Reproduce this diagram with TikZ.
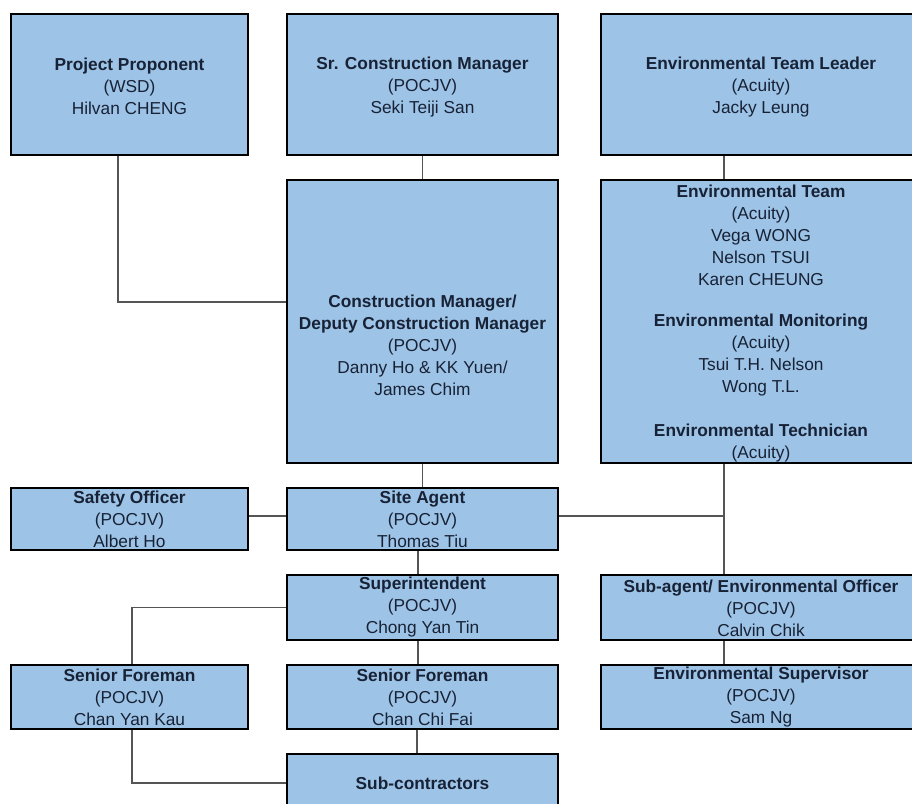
\documentclass[tikz,border=0pt]{standalone}
\usepackage{fontspec}
\setmainfont{Liberation Sans}
\usetikzlibrary{calc}
\definecolor{boxfill}{RGB}{157,195,230}
\definecolor{txtc}{RGB}{24,34,54}
\definecolor{linec}{RGB}{85,85,85}
\begin{document}
\begin{tikzpicture}[x=1pt,y=-1pt,
  box/.style={draw=black,line width=2pt,fill=boxfill,inner sep=0pt,align=center,text=txtc,font=\fontsize{17.3}{22}\selectfont},
  boxtext/.style={inner sep=0pt,align=center,text=txtc,font=\fontsize{17.3}{22}\selectfont},
  conn/.style={draw=linec,line width=1.3pt}]
\useasboundingbox (0,0) rectangle (912,803);
\clip (0,0) rectangle (912,803);
\fill[white] (0,0) rectangle (912,803);
% helper coordinates
\coordinate (xp) at (118,0);
\coordinate (xe) at (724,0);
\coordinate (xl) at (132,0);
\coordinate (xa) at (418,0);
\coordinate (xb) at (417,0);
\coordinate (yp) at (0,302);
\coordinate (ys) at (0,516);
% boxes
\node[box,minimum width=237pt,minimum height=141pt] (pp) at (129.5,84.5) {};
\node[boxtext] (ppt) at (129.5,86)
  {\textbf{Project Proponent}\\(WSD)\\Hilvan CHENG};
\node[box,minimum width=271pt,minimum height=141pt] (scm) at (422.5,84.5) {};
\node[boxtext] (scmt) at (422.5,87)
  {\textbf{Sr. Construction Manager}\\(POCJV)\\Seki Teiji San};
\node[box,minimum width=312pt,minimum height=141pt] (etl) at (757,84.5) {};
\node[boxtext] (etlt) at (761,87)
  {\textbf{Environmental Team Leader}\\(Acuity)\\Jacky Leung};
\node[box,minimum width=271pt,minimum height=283pt] (cm) at (422.5,321.5) {};
\node[boxtext] (cmt) at (422.5,345)
  {\textbf{Construction Manager/}\\\textbf{Deputy Construction Manager}\\(POCJV)\\Danny Ho \& KK Yuen/\\James Chim};
\node[box,minimum width=312pt,minimum height=283pt] (et) at (757,321.5) {};
\node[boxtext] (ett) at (761,324)
  {\textbf{Environmental Team}\\(Acuity)\\Vega WONG\\Nelson TSUI\\Karen CHEUNG\\[19pt]
   \textbf{Environmental Monitoring}\\(Acuity)\\Tsui T.H. Nelson\\Wong T.L.\\[22pt]
   \textbf{Environmental Technician}\\(Acuity)};
\node[box,minimum width=237pt,minimum height=62pt] (so) at (129.5,519)
  {\textbf{Safety Officer}\\(POCJV)\\Albert Ho};
\node[box,minimum width=271pt,minimum height=62pt] (sa) at (422.5,519)
  {\textbf{Site Agent}\\(POCJV)\\Thomas Tiu};
\node[box,minimum width=271pt,minimum height=65pt] (sup) at (422.5,607.5)
  {\textbf{Superintendent}\\(POCJV)\\Chong Yan Tin};
\node[box,minimum width=312pt,minimum height=65pt] (sub) at (757,607.5) {};
\node[boxtext] (subt) at (761,608)
  {\textbf{Sub-agent/ Environmental Officer}\\(POCJV)\\Calvin Chik};
\node[box,minimum width=237pt,minimum height=64pt] (sf1) at (129.5,697)
  {\textbf{Senior Foreman}\\(POCJV)\\Chan Yan Kau};
\node[box,minimum width=271pt,minimum height=64pt] (sf2) at (422.5,697)
  {\textbf{Senior Foreman}\\(POCJV)\\Chan Chi Fai};
\node[box,minimum width=312pt,minimum height=64pt] (es) at (757,697) {};
\node[boxtext] (est) at (761,697)
  {\textbf{Environmental Supervisor}\\(POCJV)\\Sam Ng};
\node[box,minimum width=271pt,minimum height=58pt] (sc) at (422.5,783)
  {\textbf{Sub-contractors}};
% connectors
\draw[conn] (pp.south -| xp) |- (cm.west |- yp);
\draw[conn] (scm.south) -- (cm.north);
\draw[conn] (etl.south -| xe) -- (et.north -| xe);
\draw[conn] (cm.south) -- (sa.north);
\draw[conn] (so.east |- ys) -- (sa.west |- ys);
\draw[conn] (sa.east |- ys) -- (xe |- ys);
\draw[conn] (et.south -| xe) -- (sub.north -| xe);
\draw[conn] (sa.south -| xa) -- (sup.north -| xa);
\draw[conn] (sup.west) -| (sf1.north -| xl);
\draw[conn] (sup.south -| xa) -- (sf2.north -| xa);
\draw[conn] (sf2.south -| xb) -- (sc.north -| xb);
\draw[conn] (sf1.south -| xl) |- (sc.west);
\draw[conn] (sub.south -| xe) -- (es.north -| xe);
\end{tikzpicture}
\end{document}
